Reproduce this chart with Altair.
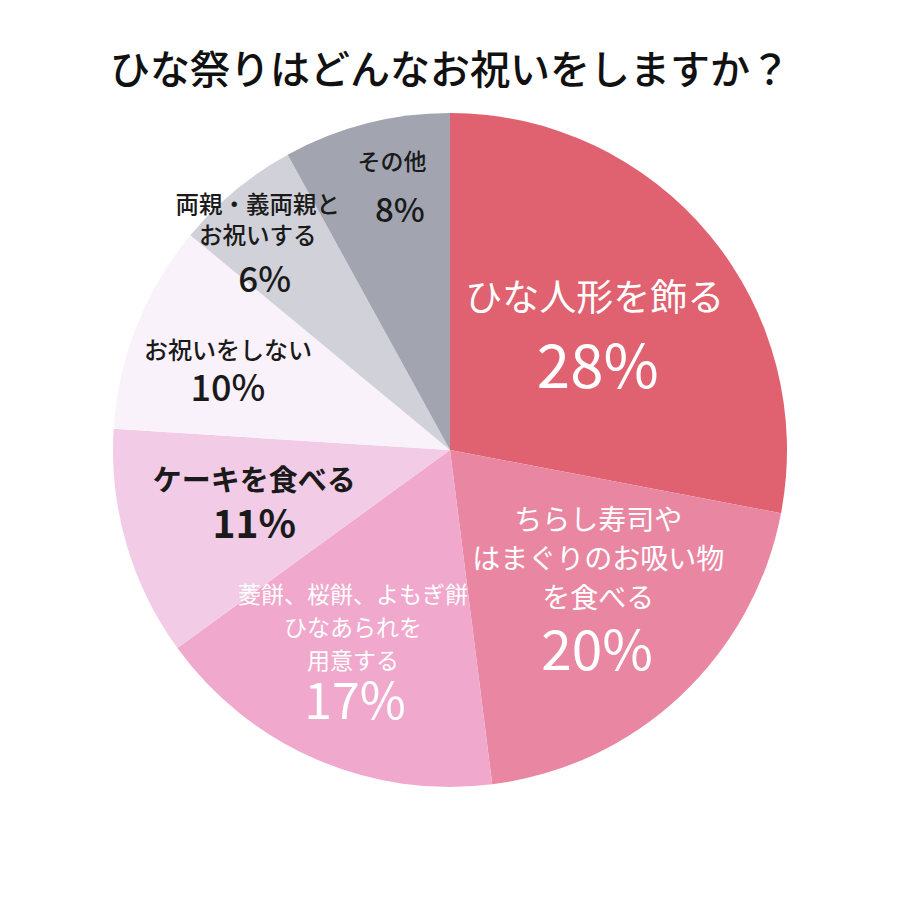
import altair as alt
import pandas as pd

TITLE = "ひな祭りはどんなお祝いをしますか？"

categories = [
    "ひな人形を飾る",
    "ちらし寿司や\nはまぐりのお吸い物\nを食べる",
    "菱餅、桜餅、よもぎ餅\nひなあられを\n用意する",
    "ケーキを食べる",
    "お祝いをしない",
    "両親・義両親と\nお祝いする",
    "その他",
]
values = [28, 20, 17, 11, 10, 6, 8]
pct_labels = ["28%", "20%", "17%", "11%", "10%", "6%", "8%"]

# styles (kept separate from data)
colors = ["#E0616F", "#E987A3", "#F0A8CC", "#F2CCE7", "#FAF2FA", "#D1D1D9", "#A2A5B0"]
text_colors = ["white", "white", "white", "#1a1a1a", "#1a1a1a", "#1a1a1a", "#1a1a1a"]
label_sizes = [37, 28, 23, 29, 24, 23.5, 23]
label_weights = [400, 400, 400, 700, 500, 500, 500]
label_line_heights = [40, 39, 33, 36, 30, 31, 30]
pct_sizes = [60, 55, 50, 39, 36, 35, 33]
pct_weights = [400, 400, 400, 700, 500, 500, 500]
# label anchor: angular shift from slice middle (degrees) and radius (px)
anchor_shift = [11.2, 7.3, -2.9, -5.0, -6.5, -8.0, 2.5]
anchor_r = [168, 251, 271, 210, 230, 251, 243]
# offset of the first label line from the percentage
label_dy = [-70, -131, -108, -44, -38, -75, -49]
label_dx = [-3, 1, -2, 0, 0, -7, -8]

FONT = "Noto Sans CJK JP"
W = H = 900
CX, CY, R = 450, 450, 337
total = sum(values)

df = pd.DataFrame({
    "idx": list(range(len(values))),
    "cat": categories,
    "value": values,
    "pct": pct_labels,
})

theta_scale = alt.Scale(domain=[0, total])

pie = alt.Chart(df).mark_arc(outerRadius=R, stroke=None).encode(
    theta=alt.Theta("value:Q", stack=True, scale=theta_scale),
    color=alt.Color("cat:N", scale=alt.Scale(domain=categories, range=colors), legend=None),
    order=alt.Order("idx:Q"),
    x=alt.value(CX),
    y=alt.value(CY),
)

layers = [pie]
for i in range(len(values)):
    base = alt.Chart(df).transform_window(
        cum="sum(value)", sort=[alt.SortField("idx")], frame=[None, 0]
    ).transform_calculate(
        mid=f"datum.cum - datum.value / 2 + {anchor_shift[i] / 360.0 * total}"
    ).transform_filter(alt.datum.idx == i)

    enc = dict(
        theta=alt.Theta("mid:Q", scale=theta_scale),
        radius=alt.value(anchor_r[i]),
        x=alt.value(CX),
        y=alt.value(CY),
    )
    pct = base.mark_text(
        font=FONT, fontSize=pct_sizes[i], fontWeight=pct_weights[i],
        color=text_colors[i], align="center", baseline="middle",
    ).encode(text="pct:N", **enc)
    lab = base.mark_text(
        font=FONT, fontSize=label_sizes[i], fontWeight=label_weights[i],
        color=text_colors[i], align="center", baseline="middle",
        lineBreak="\n", lineHeight=label_line_heights[i],
        dy=label_dy[i], dx=label_dx[i],
    ).encode(text="cat:N", **enc)
    layers += [lab, pct]

title = alt.Chart(pd.DataFrame({"t": [TITLE]})).mark_text(
    font=FONT, fontSize=40, fontWeight=500, color="#111111",
    align="center", baseline="middle",
).encode(text="t:N", x=alt.value(CX), y=alt.value(72))
layers.append(title)

chart = alt.layer(*layers).properties(
    width=W, height=H,
    autosize=alt.AutoSizeParams(type="none"),
    padding=0,
    background="white",
).configure_view(stroke=None).resolve_scale(theta="shared")

chart.save("out.html", embed_options={"renderer": "svg", "actions": False})
